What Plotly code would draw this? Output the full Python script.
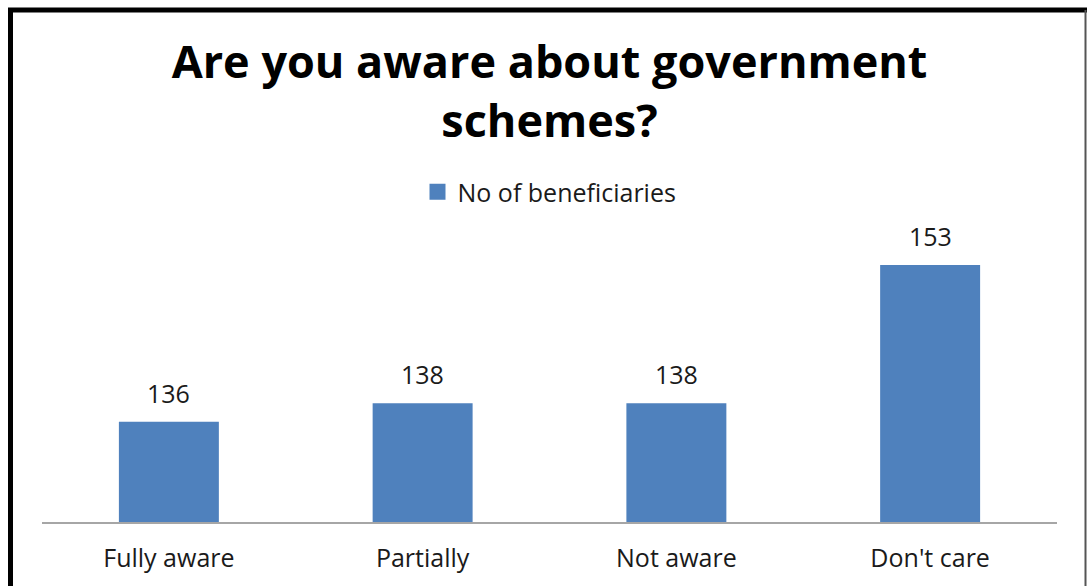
import plotly.graph_objects as go

categories = ["Fully aware", "Partially", "Not aware", "Don't care"]
beneficiaries = [136, 138, 138, 153]
series_name = "No of beneficiaries"
chart_title = "Are you aware about government<br>schemes?"

W, H = 1087, 586
M_L, M_R, M_T, M_B = 42, 30, 220, 64
FONT = "'Open Sans', sans-serif"
BAR_COLOR = "#4F81BD"
TEXT_COLOR = "#1a1a1a"


def px_x(p):
    """Pixel column -> paper x."""
    return (p - M_L) / (W - M_L - M_R)


def px_y(p):
    """Pixel row -> paper y."""
    return 1 - (p - M_T) / (H - M_T - M_B)


fig = go.Figure()
fig.add_trace(
    go.Bar(
        x=categories,
        y=beneficiaries,
        name=series_name,
        legendgroup="s",
        marker=dict(color=BAR_COLOR, line=dict(width=0)),
        showlegend=False,
    )
)
# legend entry with a larger square swatch
fig.add_trace(
    go.Scatter(
        x=[None],
        y=[None],
        mode="markers",
        name=series_name,
        legendgroup="s",
        marker=dict(symbol="square", size=17, color=BAR_COLOR),
        showlegend=True,
    )
)

# value labels above each bar
for cat, val in zip(categories, beneficiaries):
    fig.add_annotation(
        x=cat,
        y=val,
        text=str(val),
        showarrow=False,
        yanchor="bottom",
        yshift=10,
        font=dict(family=FONT, size=25, color=TEXT_COLOR),
    )

fig.update_layout(
    width=W,
    height=H,
    margin=dict(l=M_L, r=M_R, t=M_T, b=M_B, autoexpand=False),
    paper_bgcolor="white",
    plot_bgcolor="white",
    bargap=0.606,
    title=dict(
        text=chart_title,
        x=0.5,
        xref="paper",
        y=1 - 78 / H,
        yref="container",
        yanchor="top",
        font=dict(family=FONT, size=45, color="black", weight="bold"),
    ),
    legend=dict(
        orientation="h",
        x=0.5,
        xanchor="center",
        y=1 - 192 / H,
        yref="container",
        yanchor="middle",
        font=dict(family=FONT, size=25, color=TEXT_COLOR),
        itemsizing="trace",
    ),
    xaxis=dict(
        showline=True,
        linecolor="#a6a6a6",
        linewidth=2,
        ticks="",
        showgrid=False,
        tickfont=dict(family=FONT, size=25, color=TEXT_COLOR),
        ticklabelstandoff=13,
    ),
    yaxis=dict(
        range=[125.1, 157.9],
        visible=False,
        showgrid=False,
        zeroline=False,
    ),
    shapes=[
        # outer frame: heavy top and left edges, thin right edge
        dict(type="line", xref="paper", yref="paper",
             x0=px_x(8), x1=px_x(W), y0=px_y(10), y1=px_y(10),
             line=dict(color="black", width=5)),
        dict(type="line", xref="paper", yref="paper",
             x0=px_x(10.5), x1=px_x(10.5), y0=px_y(8), y1=px_y(H),
             line=dict(color="black", width=5)),
        dict(type="line", xref="paper", yref="paper",
             x0=px_x(1085.5), x1=px_x(1085.5), y0=px_y(10), y1=px_y(H),
             line=dict(color="#555555", width=2)),
    ],
)

fig.write_html("out.html")
